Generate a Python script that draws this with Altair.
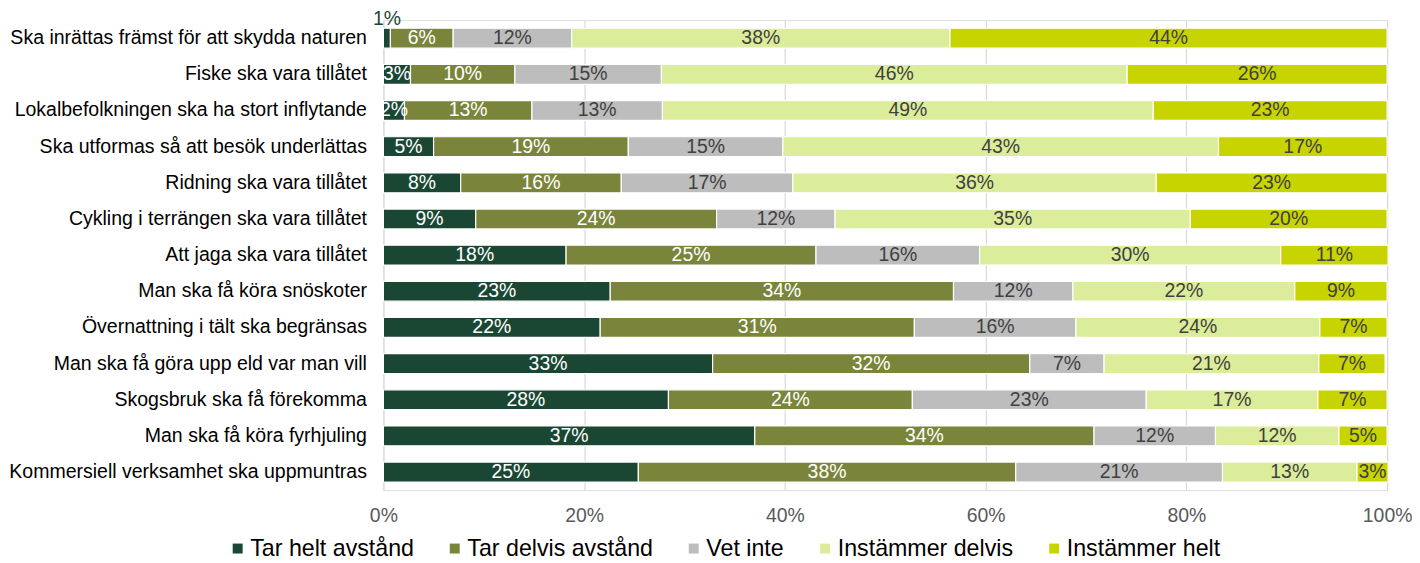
import altair as alt
import pandas as pd

statements = [
    "Ska inrättas främst för att skydda naturen",
    "Fiske ska vara tillåtet",
    "Lokalbefolkningen ska ha stort inflytande",
    "Ska utformas så att besök underlättas",
    "Ridning ska vara tillåtet",
    "Cykling i terrängen ska vara tillåtet",
    "Att jaga ska vara tillåtet",
    "Man ska få köra snöskoter",
    "Övernattning i tält ska begränsas",
    "Man ska få göra upp eld var man vill",
    "Skogsbruk ska få förekomma",
    "Man ska få köra fyrhjuling",
    "Kommersiell verksamhet ska uppmuntras",
]
categories = ["Tar helt avstånd", "Tar delvis avstånd", "Vet inte", "Instämmer delvis", "Instämmer helt"]
colors = ["#1a4734", "#7a853b", "#bcbdbc", "#dbed9a", "#c8d400"]

tar_helt = [0.7, 2.7, 2.1, 5.0, 7.7, 9.2, 18.2, 22.6, 21.6, 32.8, 28.4, 37.0, 25.4]
tar_delvis = [6.25, 10.4, 12.7, 19.4, 16.0, 24.0, 24.9, 34.2, 31.3, 31.6, 24.3, 33.8, 37.6]
vet_inte = [11.8, 14.6, 13.0, 15.4, 17.1, 11.8, 16.3, 11.9, 16.1, 7.4, 23.3, 12.1, 20.6]
instammer_delvis = [37.7, 46.4, 48.9, 43.4, 36.2, 35.4, 30.0, 22.1, 24.3, 21.4, 17.1, 12.3, 13.4]
instammer_helt = [43.55, 25.9, 23.3, 16.8, 23.0, 19.6, 10.7, 9.2, 6.7, 6.6, 6.9, 4.8, 3.1]

series = [tar_helt, tar_delvis, vet_inte, instammer_delvis, instammer_helt]
rows = []
for ci, (cat, vals) in enumerate(zip(categories, series)):
    for si, (st, v) in enumerate(zip(statements, vals)):
        rows.append({"statement": st, "category": cat, "order": ci, "value": v})
df = pd.DataFrame(rows)

FONT = "Liberation Sans"
LBL = 19.5

base = alt.Chart(df).transform_stack(
    stack="value", groupby=["statement"], as_=["x0", "x1"], sort=[alt.SortField("order")]
).transform_calculate(
    mid="(datum.x0 + datum.x1) / 2",
    label="format(round(datum.value), 'd') + '%'",
)

yenc = alt.Y(
    "statement:N", sort=statements, title=None,
    scale=alt.Scale(paddingInner=0.45, paddingOuter=0.225),
    axis=alt.Axis(ticks=False, domain=False, labelPadding=17, labelFontSize=19.6,
                  labelColor="#000000", labelFont=FONT, grid=False, labelLimit=400),
)

bars = base.mark_bar(stroke="white", strokeWidth=1.2).encode(
    y=yenc,
    x=alt.X("x0:Q", title=None,
            scale=alt.Scale(domain=[0, 100], nice=False),
            axis=alt.Axis(values=[0, 20, 40, 60, 80, 100], labelExpr="datum.value + '%'",
                          ticks=False, domain=False, labelPadding=17, labelFontSize=LBL,
                          labelFlush=False, labelOverlap=False,
                          labelColor="#595959", labelFont=FONT, grid=True,
                          gridColor="#d9d9d9", gridWidth=1.2)),
    x2="x1:Q",
    color=alt.Color("category:N", sort=categories,
                    scale=alt.Scale(domain=categories, range=colors),
                    legend=alt.Legend(title=None, orient="none", direction="horizontal",
                                      legendX=-158, legendY=519, symbolType="square",
                                      symbolSize=100, symbolStrokeWidth=0,
                                      labelFontSize=23.3, labelFont=FONT, labelColor="#000000",
                                      labelLimit=400, columnPadding=29, labelOffset=1)),
)

labels = base.transform_filter("datum.value >= 1.5").mark_text(
    font=FONT, fontSize=LBL, baseline="middle", align="center"
).encode(
    y=alt.Y("statement:N", sort=statements),
    x="mid:Q",
    text="label:N",
    color=alt.condition("datum.order < 2", alt.value("#ffffff"), alt.value("#404040")),
)

small = base.transform_filter("datum.value < 1.5").mark_text(
    font=FONT, fontSize=LBL, baseline="middle", align="center", dy=-19, color="#1a4734"
).encode(
    y=alt.Y("statement:N", sort=statements),
    x="mid:Q",
    text="label:N",
)

chart = alt.layer(bars, labels, small).properties(
    width=1008, height=472,
    autosize=alt.AutoSizeParams(type="none"),
    padding={"left": 377, "top": 11, "right": 25, "bottom": 70},
).configure_view(stroke=None).configure(background="white")

chart.save("out.html", embed_options={"renderer": "svg", "actions": False})
